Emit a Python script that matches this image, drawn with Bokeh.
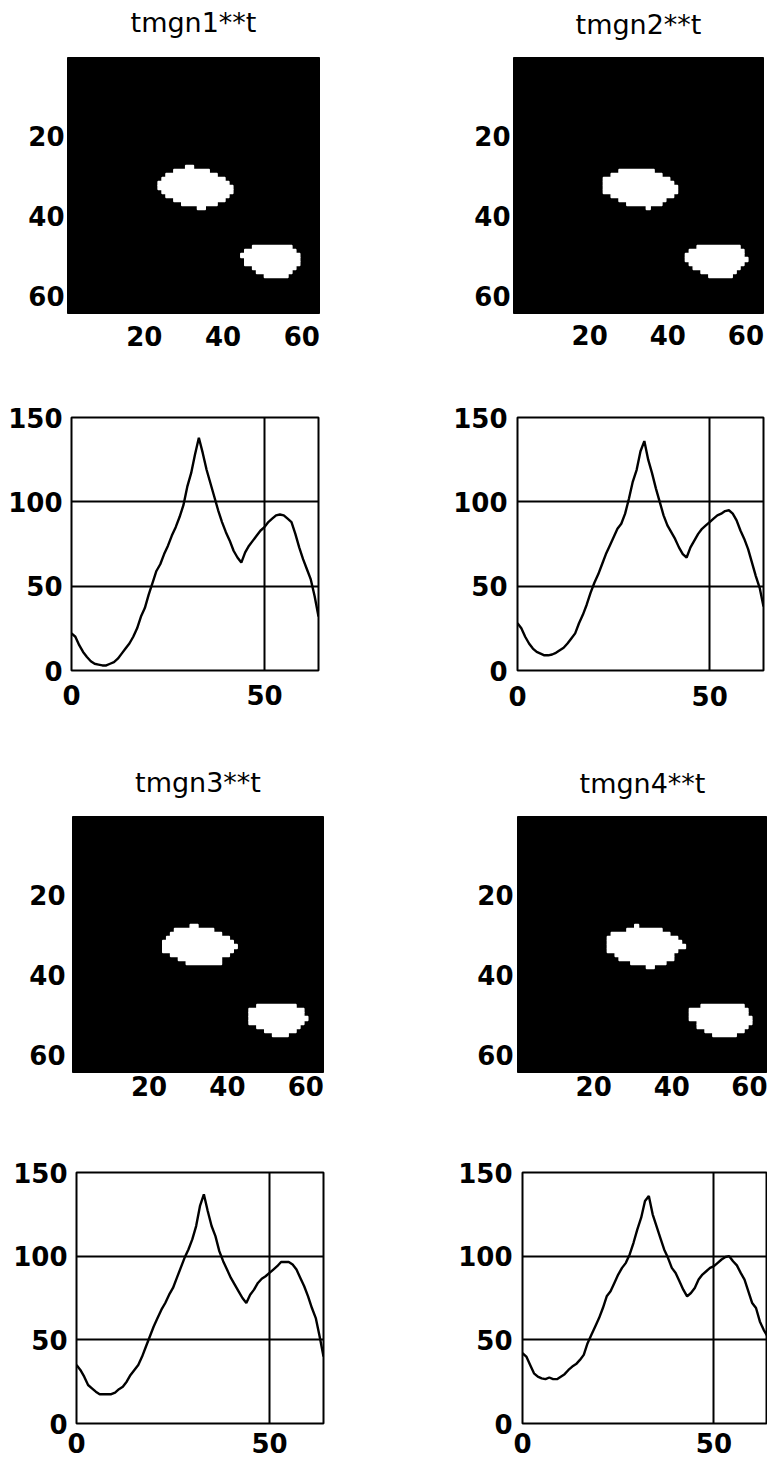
import numpy as np
from bokeh.plotting import figure
from bokeh.layouts import column, row
from bokeh.models import Range1d, FixedTicker
from bokeh.embed import file_html
from bokeh.resources import INLINE

# ---------------- data ----------------
titles = ["tmgn1**t", "tmgn2**t", "tmgn3**t", "tmgn4**t"]
img_ticks = [20, 40, 60]
line_yticks = [0, 50, 100, 150]
line_xticks = [0, 50]
line_grid_y = [50, 100]
line_grid_x = [50]

# binary images: white runs per image row (row, first col, last col)
img1_rows = [28, 29, 30, 31, 32, 33, 34, 35, 36, 37, 38, 48, 49, 50, 51, 52, 53, 54, 55]
img1_c0 = [31, 28, 26, 25, 24, 24, 25, 26, 28, 30, 34, 48, 46, 45, 46, 46, 48, 49, 51]
img1_c1 = [32, 36, 38, 40, 41, 42, 42, 41, 40, 38, 35, 57, 58, 59, 59, 59, 58, 57, 56]

img2_rows = [29, 30, 31, 32, 33, 34, 35, 36, 37, 38, 48, 49, 50, 51, 52, 53, 54, 55]
img2_c0 = [28, 26, 24, 24, 24, 24, 26, 28, 30, 35, 48, 46, 45, 45, 46, 47, 49, 51]
img2_c1 = [36, 38, 40, 41, 42, 42, 41, 39, 38, 35, 58, 59, 59, 60, 59, 58, 57, 56]

img3_rows = [28, 29, 30, 31, 32, 33, 34, 35, 36, 37, 48, 49, 50, 51, 52, 53, 54, 55]
img3_c0 = [31, 27, 26, 25, 24, 24, 24, 26, 28, 30, 48, 46, 46, 46, 46, 48, 50, 52]
img3_c1 = [32, 36, 38, 40, 41, 42, 41, 40, 38, 38, 57, 59, 59, 60, 59, 58, 57, 55]

img4_rows = [28, 29, 30, 31, 32, 33, 34, 35, 36, 37, 38, 48, 49, 50, 51, 52, 53, 54, 55]
img4_c0 = [31, 29, 25, 24, 24, 24, 24, 26, 27, 30, 34, 48, 45, 45, 45, 47, 47, 49, 51]
img4_c1 = [31, 37, 39, 41, 42, 43, 41, 40, 40, 38, 35, 58, 59, 59, 60, 60, 59, 58, 56]

# profiles (one value per column index 0..64)
profile1 = [22, 20, 15, 11, 8, 5.5, 4, 3.5, 3, 3, 4, 5, 7, 10, 13, 16, 20, 25, 32, 37,
            45, 52, 59, 63, 69, 74, 80, 85, 91, 98, 109, 117, 128, 138, 129, 119, 111, 103, 95, 88,
            82, 77, 71, 67, 64, 70, 74, 77, 80, 83, 85, 88, 90, 92, 92.5, 92, 90, 88, 81, 73,
            66, 60, 54, 44, 32]
profile2 = [28, 25, 20, 16, 13, 11, 10, 9, 9, 9.5, 10.5, 12, 13.5, 16, 19, 22, 28, 33, 39, 46,
            52, 57, 63, 69, 74, 79, 84, 87, 93, 102, 112, 119, 130, 136, 125, 117, 108, 100, 92, 86,
            82, 78, 73, 69, 67, 73, 77, 81, 84, 86, 88, 90, 92, 93, 94.5, 95, 93, 89, 83, 78,
            72, 64, 56, 49, 38]
profile3 = [35, 32, 28, 23, 21, 19, 17.5, 17.5, 17.5, 17.5, 18.5, 20.5, 22, 25, 29, 32, 35, 40, 46, 52,
            58, 63, 68, 72, 77, 81, 87, 93, 99, 104, 110, 118, 130, 137, 127, 118, 112, 103, 97, 92,
            87, 83, 79, 75, 72, 77, 80, 84, 86.5, 88, 90, 92, 94, 96.5, 96.5, 96.5, 95, 92, 87, 82,
            76, 69, 63, 52, 40]
profile4 = [42, 40, 35, 30, 28, 27, 26.5, 27.5, 26.5, 26.5, 28, 29.5, 32, 34, 35.5, 38, 41, 48, 53, 58,
            63, 69, 76, 79, 84, 89, 93, 96, 101, 108, 116, 123, 133, 136, 125, 118, 111, 104, 99, 93,
            90, 85, 80, 76, 78, 81, 86, 89, 91, 93, 94, 96, 98, 99.5, 100, 97, 94.5, 90, 86, 79,
            72, 69, 61, 56, 52]

# ---------------- styling helpers ----------------
FONT = "DejaVu Sans"
TICK_SIZE = "26px"


def style_axes(p, x_standoff, y_standoff):
    for ax in (p.xaxis[0], p.yaxis[0]):
        ax.axis_line_color = None
        ax.major_tick_in = 0
        ax.major_tick_out = 0
        ax.minor_tick_in = 0
        ax.minor_tick_out = 0
        ax.major_label_text_font = FONT
        ax.major_label_text_font_size = TICK_SIZE
        ax.major_label_text_font_style = "bold"
        ax.major_label_text_color = "black"
    p.xaxis[0].major_label_standoff = x_standoff
    p.yaxis[0].major_label_standoff = y_standoff


def make_image(title, rows, c0, c1, w, h, bl, br, bt, bb, title_standoff, xs, ys):
    p = figure(width=w, height=h, output_backend="svg", toolbar_location=None,
               x_range=Range1d(0.5, 64.5), y_range=Range1d(64.5, 0.5),
               min_border_left=bl, min_border_right=br, min_border_top=bt, min_border_bottom=bb)
    p.background_fill_color = "black"
    p.border_fill_color = "white"
    p.outline_line_color = "black"
    p.outline_line_width = 1
    p.grid.visible = False
    p.title.text = title
    p.title.align = "center"
    p.title.vertical_align = "bottom"
    p.title.text_font = FONT
    p.title.text_font_size = "27px"
    p.title.text_font_style = "normal"
    p.title.text_color = "black"
    p.title.standoff = title_standoff
    p.xaxis.ticker = FixedTicker(ticks=img_ticks)
    p.yaxis.ticker = FixedTicker(ticks=img_ticks)
    style_axes(p, xs, ys)
    r = np.array(rows, dtype=float)
    left = np.array(c0, dtype=float) - 0.5
    right = np.array(c1, dtype=float) + 0.5
    p.hbar(y=r, left=left, right=right, height=1.0, fill_color="white",
           line_color="white", line_width=1.4)
    return p


def make_line(values, w, h, bl, br, bt, bb, xs, ys):
    p = figure(width=w, height=h, output_backend="svg", toolbar_location=None,
               x_range=Range1d(0, 64), y_range=Range1d(0, 150),
               min_border_left=bl, min_border_right=br, min_border_top=bt, min_border_bottom=bb)
    p.background_fill_color = "white"
    p.border_fill_color = "white"
    p.outline_line_color = "black"
    p.outline_line_width = 2
    p.xaxis.ticker = FixedTicker(ticks=line_xticks)
    p.yaxis.ticker = FixedTicker(ticks=line_yticks)
    p.xgrid.ticker = FixedTicker(ticks=line_grid_x)
    p.ygrid.ticker = FixedTicker(ticks=line_grid_y)
    for g in (p.xgrid[0], p.ygrid[0]):
        g.grid_line_color = "black"
        g.grid_line_width = 2
        g.grid_line_alpha = 1.0
    style_axes(p, xs, ys)
    x = np.arange(len(values))
    p.line(x=x, y=values, line_color="black", line_width=2.4)
    return p


W1, W2 = 392, 375
LIFT = 18                      # first row is pulled up so its titles sit near the page top
H1, H2, H3, H4 = 365 + LIFT, 380, 365, 352

p1 = make_image(titles[0], img1_rows, img1_c0, img1_c1, W1, H1, 67, 73, 57 + LIFT, 52, 40, 12, 3)
p2 = make_image(titles[1], img2_rows, img2_c0, img2_c1, W2, H1, 121, 4, 55 + LIFT, 52, 36, 11, 3)
p3 = make_line(profile1, W1, H2, 71, 74, 52, 73, 14, 9)
p4 = make_line(profile2, W2, H2, 125, 4, 50, 75, 15, 10)
p5 = make_image(titles[2], img3_rows, img3_c0, img3_c1, W1, H3, 72, 69, 71, 38, 37, 3, 7)
p6 = make_image(titles[3], img4_rows, img4_c0, img4_c1, W2, H3, 125, 0, 70, 38, 36, 3, 4)
p7 = make_line(profile3, W1, H4, 76, 69, 62, 39, 9, 9)
p8 = make_line(profile4, W2, H4, 130, 0, 62, 39, 9, 10)

layout = column(row(p1, p2, margin=(-LIFT, 0, 0, 0)), row(p3, p4), row(p5, p6), row(p7, p8))

open("out.html", "w").write(file_html(layout, INLINE))
